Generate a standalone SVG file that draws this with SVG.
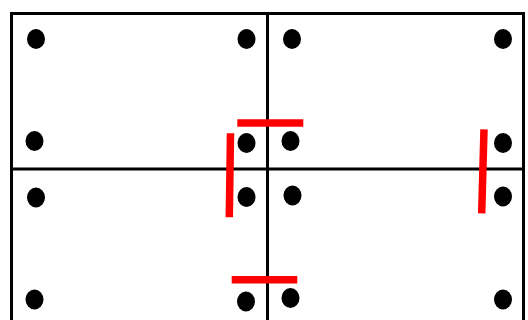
<svg xmlns="http://www.w3.org/2000/svg" width="528" height="320" viewBox="0 0 528 320">
<style>
.grid{fill:none;stroke:#000;stroke-width:3}
.dot{fill:#000}
.red{stroke:#f00;stroke-width:7.5;stroke-linecap:butt}
</style>
<rect width="528" height="320" fill="#fff"/>
<g id="grid">
<path class="grid" d="M11.5,322 V13.5 H523.5 V322"/>
<line class="grid" x1="267.5" y1="13.5" x2="267.5" y2="322"/>
<line class="grid" x1="11.5" y1="169" x2="523.5" y2="169"/>
</g>
<g id="dots">
<ellipse class="dot" cx="36" cy="39" rx="9" ry="10"/>
<ellipse class="dot" cx="246.5" cy="39" rx="9" ry="10"/>
<ellipse class="dot" cx="34.5" cy="141" rx="9" ry="10"/>
<ellipse class="dot" cx="246.5" cy="143" rx="9" ry="10"/>
<ellipse class="dot" cx="292" cy="39" rx="9" ry="10"/>
<ellipse class="dot" cx="503" cy="39" rx="9" ry="10"/>
<ellipse class="dot" cx="290.5" cy="141" rx="9" ry="10"/>
<ellipse class="dot" cx="503" cy="143" rx="9" ry="10"/>
<ellipse class="dot" cx="36" cy="197.5" rx="9" ry="10"/>
<ellipse class="dot" cx="246.5" cy="197" rx="9" ry="10"/>
<ellipse class="dot" cx="34.5" cy="299.5" rx="9" ry="10"/>
<ellipse class="dot" cx="246" cy="301.5" rx="9" ry="10"/>
<ellipse class="dot" cx="292.5" cy="195.5" rx="9" ry="10"/>
<ellipse class="dot" cx="503" cy="196.5" rx="9" ry="10"/>
<ellipse class="dot" cx="290.5" cy="298" rx="9" ry="10"/>
<ellipse class="dot" cx="503" cy="299.5" rx="9" ry="10"/>
</g>
<g id="connectors">
<line class="red" x1="237.3" y1="123" x2="303.3" y2="123"/>
<line class="red" x1="230.5" y1="133.3" x2="229.3" y2="217.3"/>
<line class="red" x1="231.7" y1="279.8" x2="297.3" y2="279.8"/>
<line class="red" x1="484" y1="129.3" x2="481.7" y2="213.3"/>
</g>
</svg>
